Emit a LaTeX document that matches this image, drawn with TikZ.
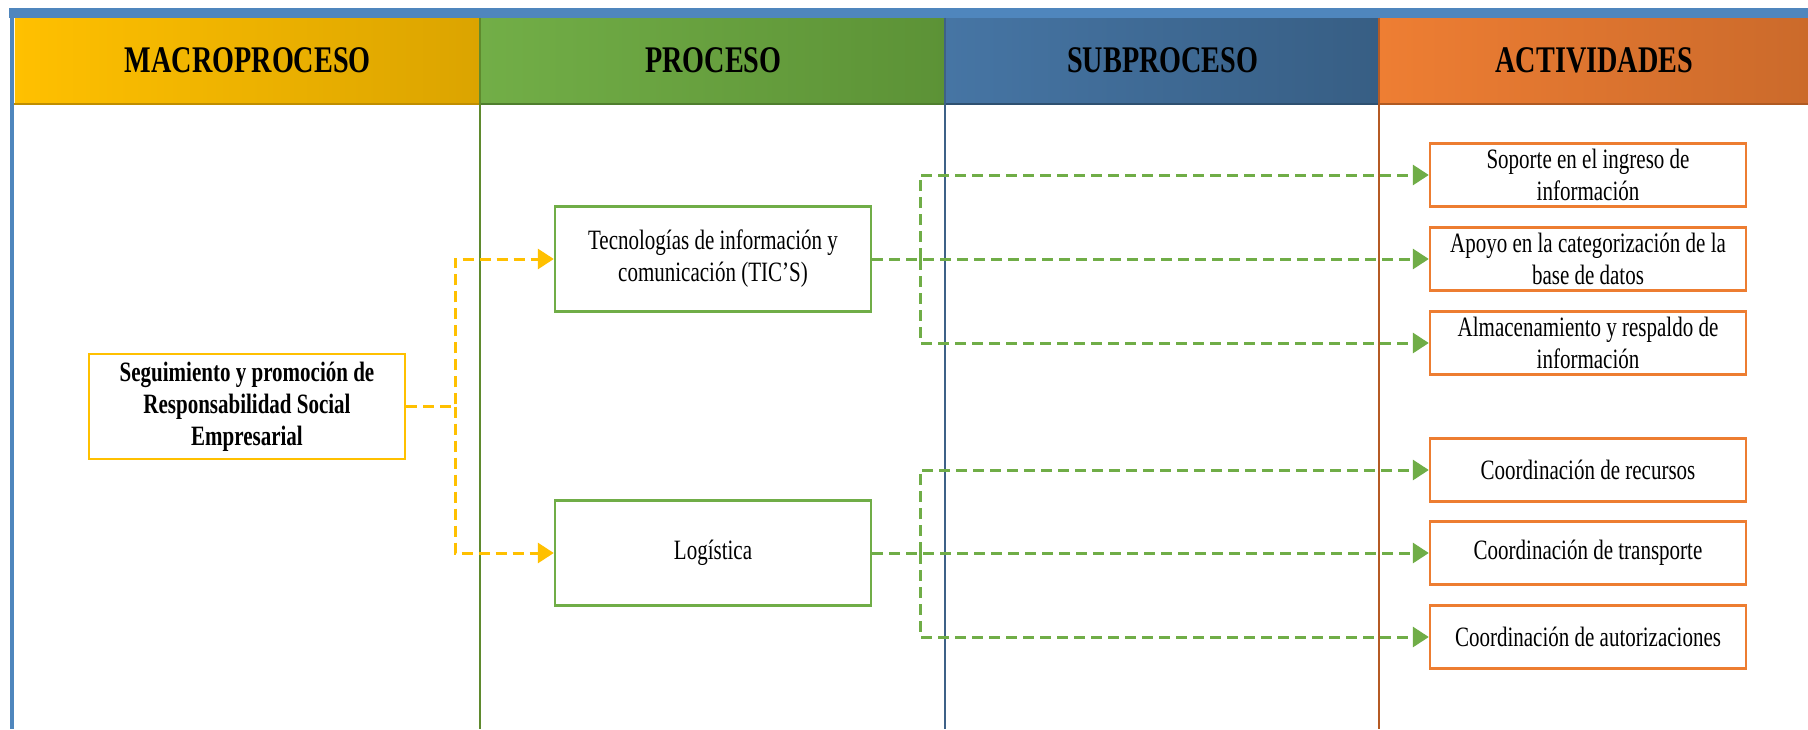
\documentclass[tikz,border=0pt]{standalone}
\usepackage{fontspec}
\setmainfont{Liberation Serif}[FakeStretch=0.75]
\usetikzlibrary{arrows.meta}
\definecolor{barblue}{HTML}{4F86BD}
\definecolor{ygold}{HTML}{FFC000}
\definecolor{ygoldR}{HTML}{DBA400}
\definecolor{ygoldD}{HTML}{C08E00}
\definecolor{pgreen}{HTML}{72AE47}
\definecolor{pgreenR}{HTML}{5C9236}
\definecolor{pgreenD}{HTML}{4F7E2E}
\definecolor{sblue}{HTML}{4675A4}
\definecolor{sblueR}{HTML}{375E84}
\definecolor{sblueD}{HTML}{2E5070}
\definecolor{aorange}{HTML}{EE7E33}
\definecolor{aorangeR}{HTML}{CB6A2B}
\definecolor{aorangeD}{HTML}{B05A22}
\definecolor{boxgreen}{HTML}{70AD47}
\definecolor{boxorange}{HTML}{ED7D31}
\definecolor{divgreen}{HTML}{5F8A2E}
\definecolor{divblue}{HTML}{3E6187}
\definecolor{divbrown}{HTML}{B55A24}
\begin{document}
\begin{tikzpicture}[x=0.5pt,y=-0.5pt,
  hdr/.style={minimum height=42.25pt, inner sep=0pt, line width=0.8pt,
    font=\fontsize{18.8}{22}\selectfont\bfseries, text=black},
  basebox/.style={minimum width=158pt, inner sep=0pt, line width=1.2pt, fill=white,
    align=center, font=\fontsize{14}{15.9}\selectfont},
  macrobox/.style={basebox, draw=ygold, minimum height=52.5pt, font=\fontsize{14}{15.9}\selectfont\bfseries},
  procbox/.style={basebox, draw=boxgreen, minimum height=52.5pt},
  actbox/.style={basebox, draw=boxorange, minimum height=31.5pt},
  dashline/.style={line width=1.5pt, dash pattern=on 5.5pt off 3pt,
    -{Triangle[length=8pt,width=10pt]}},
  ydash/.style={dashline, draw=ygold},
  gdash/.style={dashline, draw=boxgreen}
]
\useasboundingbox (0,0) rectangle (1808,729);
\fill[white] (0,0) rectangle (1808,729);

% top bar
\fill[barblue] (9,8) rectangle (1808,17.5);

% headers
\node[hdr, left color=ygold, right color=ygoldR, minimum width=233pt, anchor=north west] (h1) at (14,17.5) {MACROPROCESO};
\node[hdr, left color=pgreen, right color=pgreenR, minimum width=232.5pt, anchor=north west] (h2) at (480,17.5) {PROCESO};
\node[hdr, left color=sblue, right color=sblueR, minimum width=217pt, anchor=north west] (h3) at (945,17.5) {SUBPROCESO};
\node[hdr, left color=aorange, right color=aorangeR, minimum width=214.5pt, anchor=north west] (h4) at (1379,17.5) {ACTIVIDADES};
\draw[ygoldD, line width=1pt] (h1.south west) -- (h1.south east);
\draw[pgreenD, line width=1pt] (h2.south west) -- (h2.south east);
\draw[sblueD, line width=1pt] (h3.south west) -- (h3.south east);
\draw[aorangeD, line width=1pt] (h4.south west) -- (h4.south east);

% column dividers and left border
\draw[barblue, line width=2.2pt] (12,8) -- (12,729);
\draw[divgreen, line width=1pt] (480,17.5) -- (480,729);
\draw[divblue, line width=1pt] (945,17.5) -- (945,729);
\draw[divbrown, line width=1pt] (1379,17.5) -- (1379,729);

% boxes
\node[macrobox] (macro) at (247,406.5) {\rule{0pt}{1.5pt}Seguimiento y promoción de\\Responsabilidad Social\\Empresarial};
\node[procbox] (tic) at (713,259) {\rule{0pt}{2pt}Tecnologías de información y\\comunicación (TIC’S)};
\node[procbox] (log) at (713,553) {\rule[-2pt]{0pt}{2pt}Logística};

\node[actbox] (a1) at (1588,175) {Soporte en el ingreso de\\información};
\node[actbox] (a2) at (1588,259) {Apoyo en la categorización de la\\base de datos};
\node[actbox] (a3) at (1588,343) {Almacenamiento y respaldo de\\información};
\node[actbox] (a4) at (1588,470) {Coordinación de recursos};
\node[actbox] (a5) at (1588,553) {Coordinación de transporte};
\node[actbox] (a6) at (1588,637) {Coordinación de autorizaciones};

% connectors
\coordinate (ys) at (455,406.5);
\draw[ydash] (macro.east) -- (ys) |- (tic.west);
\draw[ydash] (ys) |- (log.west);

\coordinate (gs1) at (920,259);
\draw[gdash] (tic.east) -- (a2.west);
\draw[gdash] (gs1) |- (a1.west);
\draw[gdash] (gs1) |- (a3.west);

\coordinate (gs2) at (920,553);
\draw[gdash] (log.east) -- (a5.west);
\draw[gdash] (gs2) |- (a4.west);
\draw[gdash] (gs2) |- (a6.west);
\end{tikzpicture}
\end{document}
